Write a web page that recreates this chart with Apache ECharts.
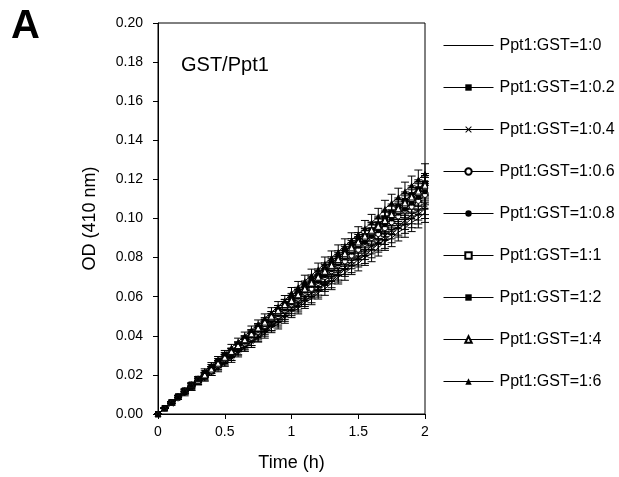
<!DOCTYPE html>
<html>
<head>
<meta charset="utf-8">
<script src="https://cdn.jsdelivr.net/npm/echarts@6/dist/echarts.min.js"></script>
<style>
html, body { margin: 0; padding: 0; background: #fff; }
#chart { width: 619px; height: 477px; }
</style>
</head>
<body>
<div id="chart"></div>
<script>
// time points (h)
var times = [0, 0.05, 0.1, 0.15, 0.2, 0.25, 0.3, 0.35, 0.4, 0.45, 0.5, 0.55, 0.6, 0.65, 0.7, 0.75, 0.8, 0.85, 0.9, 0.95,
    1, 1.05, 1.1, 1.15, 1.2, 1.25, 1.3, 1.35, 1.4, 1.45, 1.5, 1.55, 1.6, 1.65, 1.7, 1.75, 1.8, 1.85, 1.9, 1.95, 2];

var names = ['Ppt1:GST=1:0', 'Ppt1:GST=1:0.2', 'Ppt1:GST=1:0.4', 'Ppt1:GST=1:0.6', 'Ppt1:GST=1:0.8',
    'Ppt1:GST=1:1', 'Ppt1:GST=1:2', 'Ppt1:GST=1:4', 'Ppt1:GST=1:6'];

var od_0 = [0, 0.003, 0.005, 0.008, 0.010, 0.013, 0.016, 0.018, 0.021, 0.023, 0.026, 0.028, 0.031, 0.034, 0.036, 0.039, 0.041, 0.044, 0.046, 0.049,
    0.052, 0.054, 0.057, 0.059, 0.062, 0.064, 0.067, 0.070, 0.072, 0.075, 0.077, 0.080, 0.082, 0.085, 0.088, 0.090, 0.093, 0.095, 0.098, 0.100, 0.103];
var od_02 = [0, 0.003, 0.005, 0.008, 0.011, 0.013, 0.016, 0.018, 0.021, 0.024, 0.026, 0.029, 0.032, 0.034, 0.037, 0.039, 0.042, 0.045, 0.047, 0.050,
    0.053, 0.055, 0.058, 0.060, 0.063, 0.066, 0.068, 0.071, 0.074, 0.076, 0.079, 0.081, 0.084, 0.087, 0.089, 0.092, 0.095, 0.097, 0.100, 0.102, 0.105];
var od_04 = [0, 0.003, 0.005, 0.008, 0.011, 0.013, 0.016, 0.019, 0.021, 0.024, 0.027, 0.029, 0.032, 0.035, 0.037, 0.040, 0.043, 0.045, 0.048, 0.051,
    0.054, 0.056, 0.059, 0.062, 0.064, 0.067, 0.070, 0.072, 0.075, 0.078, 0.080, 0.083, 0.086, 0.088, 0.091, 0.094, 0.096, 0.099, 0.102, 0.104, 0.107];
var od_06 = [0, 0.003, 0.006, 0.008, 0.011, 0.014, 0.017, 0.020, 0.022, 0.025, 0.028, 0.031, 0.034, 0.036, 0.039, 0.042, 0.045, 0.048, 0.050, 0.053,
    0.056, 0.059, 0.062, 0.064, 0.067, 0.070, 0.073, 0.076, 0.078, 0.081, 0.084, 0.087, 0.090, 0.092, 0.095, 0.098, 0.101, 0.104, 0.106, 0.109, 0.112];
var od_08 = [0, 0.003, 0.006, 0.009, 0.011, 0.014, 0.017, 0.020, 0.023, 0.026, 0.029, 0.031, 0.034, 0.037, 0.040, 0.043, 0.046, 0.048, 0.051, 0.054,
    0.057, 0.060, 0.063, 0.066, 0.068, 0.071, 0.074, 0.077, 0.080, 0.083, 0.086, 0.088, 0.091, 0.094, 0.097, 0.100, 0.103, 0.105, 0.108, 0.111, 0.114];
var od_1 = [0, 0.003, 0.006, 0.009, 0.012, 0.015, 0.017, 0.020, 0.023, 0.026, 0.029, 0.032, 0.035, 0.038, 0.041, 0.044, 0.046, 0.049, 0.052, 0.055,
    0.058, 0.061, 0.064, 0.067, 0.070, 0.073, 0.075, 0.078, 0.081, 0.084, 0.087, 0.090, 0.093, 0.096, 0.099, 0.102, 0.104, 0.107, 0.110, 0.113, 0.116];
var od_2 = [0, 0.003, 0.006, 0.009, 0.012, 0.015, 0.018, 0.021, 0.024, 0.027, 0.030, 0.032, 0.035, 0.038, 0.041, 0.044, 0.047, 0.050, 0.053, 0.056,
    0.059, 0.062, 0.065, 0.068, 0.071, 0.074, 0.077, 0.080, 0.083, 0.086, 0.089, 0.091, 0.094, 0.097, 0.100, 0.103, 0.106, 0.109, 0.112, 0.115, 0.118];
var od_4 = [0, 0.003, 0.006, 0.009, 0.012, 0.015, 0.018, 0.020, 0.023, 0.026, 0.029, 0.032, 0.035, 0.038, 0.041, 0.044, 0.047, 0.050, 0.053, 0.056,
    0.058, 0.061, 0.064, 0.067, 0.070, 0.073, 0.076, 0.079, 0.082, 0.085, 0.088, 0.091, 0.094, 0.096, 0.099, 0.102, 0.105, 0.108, 0.111, 0.114, 0.117];
var od_6 = [0, 0.003, 0.006, 0.009, 0.012, 0.015, 0.018, 0.022, 0.025, 0.028, 0.031, 0.034, 0.037, 0.040, 0.043, 0.046, 0.049, 0.052, 0.055, 0.058,
    0.062, 0.065, 0.068, 0.071, 0.074, 0.077, 0.080, 0.083, 0.086, 0.089, 0.092, 0.095, 0.098, 0.101, 0.105, 0.108, 0.111, 0.114, 0.117, 0.120, 0.123];

// standard deviation (shared estimate)
var sd = [0, 0.0002, 0.0004, 0.0005, 0.0007, 0.0008, 0.0010, 0.0011, 0.0013, 0.0014, 0.0015, 0.0016, 0.0018, 0.0019, 0.0020, 0.0021, 0.0022, 0.0024, 0.0025, 0.0026,
    0.0027, 0.0028, 0.0030, 0.0031, 0.0032, 0.0033, 0.0034, 0.0035, 0.0036, 0.0037, 0.0038, 0.0040, 0.0041, 0.0042, 0.0043, 0.0044, 0.0045, 0.0046, 0.0047, 0.0048, 0.0050];

var yTicks = [0, 0.02, 0.04, 0.06, 0.08, 0.10, 0.12, 0.14, 0.16, 0.18, 0.20];
var xTicks = [0, 0.5, 1, 1.5, 2];

var allOd = [od_0, od_02, od_04, od_06, od_08, od_1, od_2, od_4, od_6];

var crossPath = 'path://M0,1L1,0L5,4L9,0L10,1L6,5L10,9L9,10L5,6L1,10L0,9L4,5Z';
var dashPath = 'path://M0,0L5,0L5,1.4L0,1.4Z';
var marks = [
    {symbol: 'none', fill: 'rgba(0,0,0,0)'},
    {symbol: dashPath, size: 7, fill: '#000'},
    {symbol: crossPath, size: 5, fill: '#000'},
    {symbol: 'circle', size: 5, fill: '#fff'},
    {symbol: 'circle', size: 6, fill: '#000'},
    {symbol: 'rect', size: 5, fill: '#fff'},
    {symbol: 'rect', size: 6, fill: '#000'},
    {symbol: 'triangle', size: 6, fill: '#fff'},
    {symbol: 'triangle', size: 6, fill: '#000'}
];

var series = [];
allOd.forEach(function (vals, k) {
    var errData = vals.map(function (v, i) { return [times[i], v, sd[i]]; });
    series.push({
        type: 'custom',
        name: names[k] + ' sd',
        z: 1,
        silent: true,
        clip: false,
        renderItem: function (params, api) {
            var x = api.value(0), y = api.value(1), e = api.value(2);
            var top = api.coord([x, y + e]);
            var bot = api.coord([x, y - e]);
            var cap = 4;
            var st = {stroke: '#000', lineWidth: 1};
            return {
                type: 'group',
                children: [
                    {type: 'line', shape: {x1: top[0], y1: top[1], x2: bot[0], y2: bot[1]}, style: st},
                    {type: 'line', shape: {x1: top[0] - cap, y1: top[1], x2: top[0] + cap, y2: top[1]}, style: st},
                    {type: 'line', shape: {x1: bot[0] - cap, y1: bot[1], x2: bot[0] + cap, y2: bot[1]}, style: st}
                ]
            };
        },
        encode: {x: 0, y: 1},
        data: errData
    });
    var m = marks[k];
    series.push({
        type: 'line',
        name: names[k],
        z: 3,
        data: vals.map(function (v, i) { return [times[i], v]; }),
        symbol: m.symbol,
        symbolSize: m.size || 0,
        symbolKeepAspect: true,
        showSymbol: m.symbol !== 'none',
        lineStyle: {color: '#000', width: 1},
        itemStyle: {color: m.fill, borderColor: '#000', borderWidth: m.fill === '#fff' ? 1 : 0},
        animation: false
    });
});

var option = {
    animation: false,
    backgroundColor: '#fff',
    textStyle: {fontFamily: 'Liberation Sans'},
    title: [
        {text: 'A', left: 11, top: 7, padding: 0, textStyle: {fontSize: 40, fontWeight: 'bold', color: '#000', fontFamily: 'Liberation Sans'}},
        {text: 'GST/Ppt1', left: 181, top: 55, padding: 0, textStyle: {fontSize: 20, fontWeight: 'normal', color: '#000', fontFamily: 'Liberation Sans'}}
    ],
    legend: {
        data: names,
        orient: 'vertical',
        left: 443,
        top: 37.5,
        padding: 0,
        itemWidth: 50,
        itemHeight: 8,
        itemGap: 26,
        lineStyle: {width: 1, color: '#000'},
        textStyle: {fontSize: 16, lineHeight: 16, color: '#000', fontFamily: 'Liberation Sans', padding: [0, 0, 0, 1]},
        selectedMode: false
    },
    grid: {
        left: 158,
        right: 194,
        top: 23,
        bottom: 63,
        show: true,
        borderColor: '#000',
        borderWidth: 1,
        containLabel: false
    },
    xAxis: {
        type: 'value',
        min: xTicks[0],
        max: xTicks[xTicks.length - 1],
        interval: 0.5,
        name: 'Time (h)',
        nameLocation: 'middle',
        nameGap: 40,
        nameTextStyle: {fontSize: 18, color: '#000'},
        axisLine: {lineStyle: {color: '#000', width: 1}},
        axisTick: {show: true, inside: false, length: 5, lineStyle: {color: '#000'}},
        axisLabel: {fontSize: 14, color: '#000', margin: 11},
        splitLine: {show: false}
    },
    yAxis: {
        type: 'value',
        min: yTicks[0],
        max: yTicks[yTicks.length - 1],
        interval: 0.02,
        name: 'OD (410 nm)',
        nameLocation: 'middle',
        nameGap: 59,
        nameTextStyle: {fontSize: 18, color: '#000'},
        axisLine: {show: true, lineStyle: {color: '#000', width: 1}},
        axisTick: {show: true, inside: false, length: 5, lineStyle: {color: '#000'}},
        axisLabel: {fontSize: 14, color: '#000', margin: 15, formatter: function (v) { return v.toFixed(2); }},
        splitLine: {show: false}
    },
    series: series
};

var myChart = echarts.init(document.getElementById('chart'));
myChart.setOption(option);
</script>
</body>
</html>
